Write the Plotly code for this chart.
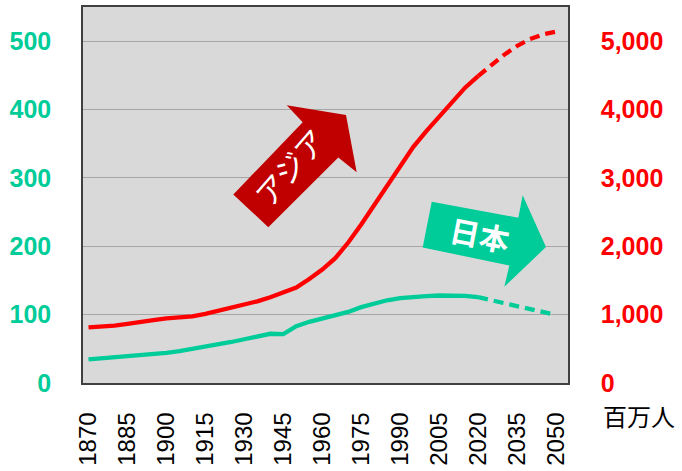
import plotly.graph_objects as go

# ---- data (millions of people) ----
years = [1870, 1875, 1880, 1885, 1890, 1895, 1900, 1905, 1910, 1915, 1920, 1925,
         1930, 1935, 1940, 1945, 1950, 1955, 1960, 1965, 1970, 1975, 1980, 1985,
         1990, 1995, 2000, 2005, 2010, 2015, 2020, 2025, 2030, 2035, 2040, 2045, 2050]
asia = [813, 825, 840, 865, 900, 920, 945, 960, 975, 1010, 1055, 1100,
        1140, 1195, 1255, 1320, 1395, 1520, 1660, 1825, 2055, 2320, 2600, 2880,
        3170, 3450, 3680, 3890, 4100, 4320, 4490, 4650, 4800, 4930, 5030, 5100, 5140]
japan = [34.5, 36, 37.5, 38.5, 40.5, 42, 44, 46.5, 49.5, 53, 56, 60,
         64, 68.5, 72, 71.5, 83, 89.5, 94, 98.5, 104, 111, 116.5, 121,
         124, 126, 127, 128, 128.5, 127.5, 125.5, 121, 116.5, 112, 107.5, 103.5, 99.5]
projection_start = 2020

x_ticks = [1870, 1885, 1900, 1915, 1930, 1945, 1960, 1975, 1990, 2005, 2020, 2035, 2050]
left_ticks = [0, 100, 200, 300, 400, 500]
right_ticks = [0, 1000, 2000, 3000, 4000, 5000]

RED = "#FF0000"
GREEN = "#00CC99"
DARKRED = "#C00000"

W, H = 682, 471
PL, PR, PT, PB = 83, 568, 5, 388  # plot area in px

k = years.index(projection_start)

fig = go.Figure()
# Asia (right axis)
fig.add_trace(go.Scatter(x=years[:k + 1], y=asia[:k + 1], mode="lines", yaxis="y2",
                         line=dict(color=RED, width=4.3), hoverinfo="skip"))
fig.add_trace(go.Scatter(x=years[k:], y=asia[k:], mode="lines", yaxis="y2",
                         line=dict(color=RED, width=4.3, dash="10px,6px"), hoverinfo="skip"))
# Japan (left axis)
fig.add_trace(go.Scatter(x=years[:k + 1], y=japan[:k + 1], mode="lines",
                         line=dict(color=GREEN, width=4.3), hoverinfo="skip"))
fig.add_trace(go.Scatter(x=years[k:], y=japan[k:], mode="lines",
                         line=dict(color=GREEN, width=4.3, dash="10px,6px"), hoverinfo="skip"))


def px2paper(pts):
    return [((x - PL) / (PR - PL), (PB - y) / (PB - PT)) for x, y in pts]


def path_of(pts):
    p = px2paper(pts)
    return "M " + " L ".join(f"{x:.4f},{y:.4f}" for x, y in p) + " Z"


red_arrow = [(233.3, 196), (268.3, 229.3), (338.3, 158.3), (356.7, 173.3),
             (346, 115), (286.7, 105), (302.7, 122.3)]
green_arrow = [(431.7, 203.3), (422.7, 250), (509.3, 268.3), (504.3, 290),
               (546, 249.5), (522.7, 196.7), (518.3, 219.6)]

shapes = [
    dict(type="path", xref="paper", yref="paper", path=path_of(red_arrow),
         fillcolor=DARKRED, line=dict(width=0), layer="above"),
    dict(type="path", xref="paper", yref="paper", path=path_of(green_arrow),
         fillcolor=GREEN, line=dict(width=0), layer="above"),
]


def ann(text, cx, cy, size, color, angle=0, family="Noto Sans CJK JP", bold=False):
    (xp, yp), = px2paper([(cx, cy)])
    return dict(text=f"<b>{text}</b>" if bold else text, x=xp, y=yp, xref="paper", yref="paper",
                showarrow=False, textangle=angle, xanchor="center", yanchor="middle",
                font=dict(family=family, size=size, color=color))


annotations = [
    ann("アジア", 289, 168, 30, "white", angle=-49),
    ann("日本", 480, 236, 30, "white", angle=11, bold=True),
    ann("百万人", 639, 421, 24, "black"),
]

fig.update_layout(
    width=W, height=H, autosize=False,
    margin=dict(l=PL, r=W - PR, t=PT, b=H - PB, pad=0),
    paper_bgcolor="white", plot_bgcolor="#D9D9D9",
    showlegend=False,
    shapes=shapes, annotations=annotations,
    xaxis=dict(range=[1867.88, 2054.62], tickvals=x_ticks, tickangle=-90,
               showgrid=False, zeroline=False, showline=True, mirror=True,
               linecolor="#404040", linewidth=1.5, ticks="", ticklabelstandoff=18,
               tickfont=dict(family="Liberation Sans", size=24, color="black")),
    yaxis=dict(range=[0, 550], tickvals=left_ticks, showgrid=True, gridcolor="#A6A6A6",
               gridwidth=1.3, zeroline=False, showline=True, linecolor="#404040", linewidth=1.5,
               ticks="", ticklabelstandoff=25,
               tickfont=dict(family="Liberation Sans", size=25, color=GREEN, weight="bold")),
    yaxis2=dict(range=[0, 5500], tickvals=right_ticks, overlaying="y", side="right",
                showgrid=False, zeroline=False, showline=True, linecolor="#404040", linewidth=1.5,
                tickformat=",d", ticks="", ticklabelstandoff=26,
                tickfont=dict(family="Liberation Sans", size=25, color=RED, weight="bold")),
)

fig.write_html("out.html", config={"displayModeBar": False},
               post_script="document.body.style.margin='0';document.body.style.overflow='hidden';")
